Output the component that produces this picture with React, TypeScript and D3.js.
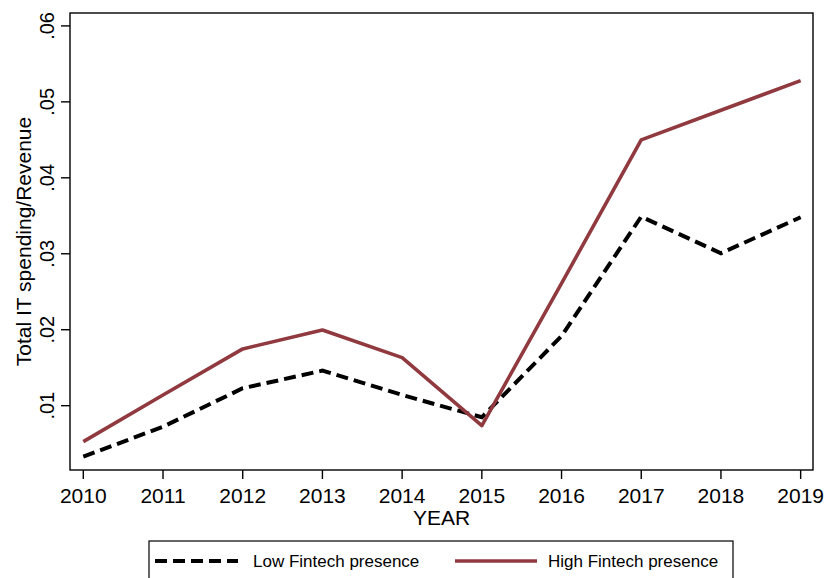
import React from "react";
import * as d3 from "d3";

// Mean IT spending relative to revenue, by year and Fintech presence group
const years = [2010, 2011, 2012, 2013, 2014, 2015, 2016, 2017, 2018, 2019];
const lowFintech = [0.00328, 0.00723, 0.01229, 0.01461, 0.01141, 0.00847, 0.01917, 0.03489, 0.03007, 0.03481];
const highFintech = [0.00526, 0.0114, 0.01747, 0.01997, 0.01632, 0.00737, 0.0261, 0.04499, 0.0489, 0.0528];
const yTicks = [0.01, 0.02, 0.03, 0.04, 0.05, 0.06];
const seriesNames = ["Low Fintech presence", "High Fintech presence"];

const W = 826;
const H = 578;
const plot = { left: 70, top: 13, right: 813, bottom: 470 };
const FONT = "'Liberation Sans', Arial, Helvetica, sans-serif";
const RED = "#903A40";

const x = d3
  .scaleLinear()
  .domain([2009.833, 2019.155])
  .range([plot.left, plot.right]);
const y = d3
  .scaleLinear()
  .domain([0.00153, 0.0617])
  .range([plot.bottom, plot.top]);

const line = d3
  .line<number>()
  .x((_, i) => x(years[i]))
  .y((v) => y(v));

const fmt = (v: number) => d3.format(".2f")(v).replace(/^0/, "");

export default function App() {
  return (
    <svg
      width={W}
      height={H}
      style={{ position: "absolute", left: 0, top: 0, background: "#fff" }}
      fontFamily={FONT}
    >
      <rect x={0} y={0} width={W} height={H} fill="#fff" />
      {/* plot region border */}
      <rect
        x={plot.left}
        y={plot.top}
        width={plot.right - plot.left}
        height={plot.bottom - plot.top}
        fill="none"
        stroke="#000"
        strokeWidth={1.4}
      />
      {/* y axis */}
      {yTicks.map((t) => (
        <g key={t}>
          <line x1={plot.left} x2={plot.left - 9} y1={y(t)} y2={y(t)} stroke="#000" strokeWidth={1.4} />
          <text
            transform={`translate(53.5,${y(t)}) rotate(-90)`}
            textAnchor="middle"
            fontSize={20}
            fill="#000"
          >
            {fmt(t)}
          </text>
        </g>
      ))}
      <text
        transform={`translate(31,${(plot.top + plot.bottom) / 2}) rotate(-90)`}
        textAnchor="middle"
        fontSize={21}
        fill="#000"
      >
        Total IT spending/Revenue
      </text>
      {/* x axis */}
      {years.map((yr) => (
        <g key={yr}>
          <line x1={x(yr)} x2={x(yr)} y1={plot.bottom} y2={plot.bottom + 9} stroke="#000" strokeWidth={1.4} />
          <text x={x(yr)} y={503} textAnchor="middle" fontSize={21} fill="#000">
            {yr}
          </text>
        </g>
      ))}
      <text x={(plot.left + plot.right) / 2} y={525} textAnchor="middle" fontSize={21} fill="#000">
        YEAR
      </text>
      {/* series */}
      <path d={line(lowFintech) ?? ""} fill="none" stroke="#000" strokeWidth={4} strokeDasharray="12 6" />
      <path d={line(highFintech) ?? ""} fill="none" stroke={RED} strokeWidth={3.6} strokeLinejoin="round" />
      {/* legend */}
      <rect x={149} y={541} width={584} height={50} fill="#fff" stroke="#000" strokeWidth={1.2} />
      <line x1={155} x2={238} y1={561} y2={561} stroke="#000" strokeWidth={4} strokeDasharray="12 6" />
      <text x={253} y={567} fontSize={17} fill="#000">
        {seriesNames[0]}
      </text>
      <line x1={455} x2={537} y1={561} y2={561} stroke={RED} strokeWidth={3.6} />
      <text x={548} y={567} fontSize={17} fill="#000">
        {seriesNames[1]}
      </text>
    </svg>
  );
}
